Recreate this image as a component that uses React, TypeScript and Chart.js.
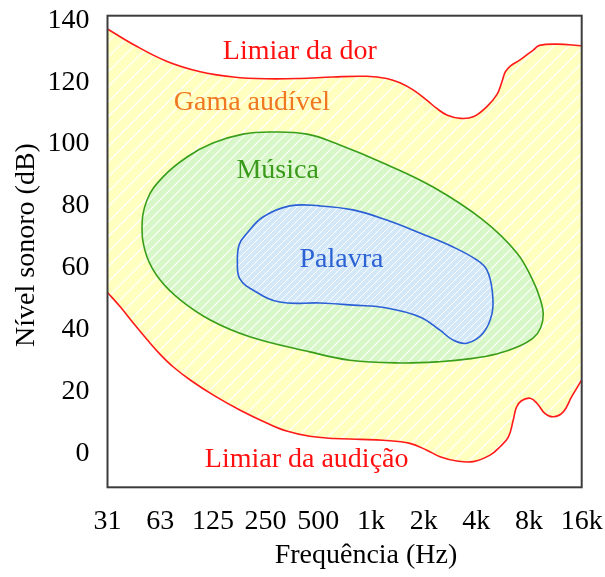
import React, { useEffect, useRef } from 'react';
import { Chart, registerables } from 'chart.js';

Chart.register(...registerables);

// ---- axes ----
const xTickOctaves = [0, 1, 2, 3, 4, 5, 6, 7, 8, 9];
const xTickLabels = ['31', '63', '125', '250', '500', '1k', '2k', '4k', '8k', '16k'];
const yTickValues = [0, 20, 40, 60, 80, 100, 120, 140];

// ---- threshold of pain (octaves above 31 Hz, dB) ----
const painOct = [0, 0.49, 1.12, 1.76, 2.39, 3.02, 3.65, 4.28, 4.92, 5.3, 5.55, 5.8, 6.06, 6.25, 6.45, 6.7, 6.94, 7.2, 7.39, 7.48, 7.55, 7.65, 7.83, 8.08, 8.2, 8.53, 9];
const painDb = [137.2, 132.2, 126.8, 123.4, 121.7, 121.1, 121.2, 121.7, 121.9, 121.2, 119.8, 117.5, 114.2, 111.5, 109.3, 108.3, 108.8, 112.1, 116, 119.8, 123.3, 125.3, 127.2, 130.4, 131.9, 132.3, 131.8];

// ---- threshold of hearing ----
const hearOct = [0, 0.25, 0.5, 0.75, 1.0, 1.25, 1.57, 2.01, 2.51, 3.02, 3.4, 3.84, 4.29, 4.8, 5.23, 5.74, 6.06, 6.31, 6.63, 6.94, 7.26, 7.45, 7.61, 7.7, 7.76, 7.85, 8.02, 8.15, 8.3, 8.46, 8.65, 8.81, 9];
const hearDb = [52, 47.2, 41.9, 36.8, 32.0, 27.9, 23.7, 18.8, 14.0, 9.8, 7.2, 5.5, 4.8, 4.5, 4.2, 3.2, 1.0, -1.1, -2.5, -2.7, -0.6, 2.1, 5.3, 10.7, 14.8, 16.9, 17.8, 16.2, 12.9, 11.8, 13.4, 18.3, 23.7];

// ---- music region (closed outline) ----
const musicOct = [0.655, 0.75, 1.05, 1.51, 2.0, 2.57, 3.08, 3.79, 4.41, 5.23, 6.18, 7.13, 7.77, 8.07, 8.21, 8.27, 8.22, 8.08, 7.8, 7.4, 6.9, 6.3, 5.55, 4.6, 3.84, 2.7, 1.95, 1.38, 1.0, 0.75];
const musicDb = [72.2, 81.9, 89.3, 95.8, 100.3, 103.2, 103.9, 103.2, 99.7, 93.9, 86.1, 75.4, 64.8, 56, 50, 45, 40.5, 37.3, 34.5, 32.2, 30.6, 29.6, 29.2, 30.1, 32.8, 37.7, 43.1, 49.6, 56, 63.5];

// ---- speech region (closed outline) ----
const speechOct = [2.465, 2.5, 2.65, 2.95, 3.46, 4.03, 4.66, 5.3, 5.93, 6.56, 7.01, 7.2, 7.3, 7.3, 7.13, 6.82, 6.56, 6.31, 5.93, 5.3, 4.66, 4.03, 3.27, 2.76, 2.51];
const speechDb = [61.5, 67.5, 71.2, 76.4, 80.0, 80.0, 78.7, 75.4, 71.2, 66.7, 62.5, 59.3, 52.8, 45.4, 38.9, 35.6, 36.6, 39.8, 44.1, 47, 47.9, 48.6, 48.9, 52.8, 56.5];

// ---- region labels ----
const labelTexts = ['Limiar da dor', 'Gama audível', 'Música', 'Palavra', 'Limiar da audição'];
const labelOct = [3.65, 2.74, 3.23, 4.44, 3.78];
const labelDb = [129.8, 113.4, 91.3, 62.7, -2.2];

const FONT = "'Liberation Serif', 'Times New Roman', serif";
const LABEL_COLORS = ['#ff1010', '#f07822', '#3a9a1c', '#2b62d4', '#ff1010'];

const toXY = (xs: number[], ys: number[]) => xs.map((x, i) => ({ x, y: ys[i] }));

function hatch(base: string, size: number, lw: number): CanvasPattern | string {
  const c = document.createElement('canvas');
  c.width = size;
  c.height = size;
  const g = c.getContext('2d');
  if (!g) return base;
  g.fillStyle = base;
  g.fillRect(0, 0, size, size);
  g.strokeStyle = 'rgba(255,255,255,0.95)';
  g.lineWidth = lw;
  g.beginPath();
  for (const off of [-size, 0, size]) {
    g.moveTo(off, size);
    g.lineTo(off + size, 0);
  }
  g.stroke();
  const p = g.createPattern(c, 'repeat');
  return p || base;
}

// make the outline datasets flagged closedShape draw as smooth closed loops
const loopShapes = {
  id: 'loopShapes',
  afterDatasetUpdate(chart: any, args: any) {
    const ds = chart.data.datasets[args.index];
    const line = args.meta && args.meta.dataset;
    if (ds && ds.closedShape && line) {
      line._loop = true;
      line._fullLoop = true;
      delete line._segments;
      delete line._path;
      line._pointsUpdated = false;
    }
  },
};

const overlay = {
  id: 'overlay',
  afterDatasetsDraw(chart: any) {
    const { ctx, chartArea: a, scales } = chart;
    const x = scales.x;
    const y = scales.y;
    ctx.save();
    ctx.strokeStyle = '#3d3d3d';
    ctx.lineWidth = 2;
    ctx.strokeRect(a.left, a.top, a.right - a.left, a.bottom - a.top);
    ctx.font = `28px ${FONT}`;
    ctx.textAlign = 'center';
    ctx.textBaseline = 'middle';
    labelTexts.forEach((t, i) => {
      ctx.fillStyle = LABEL_COLORS[i];
      ctx.fillText(t, x.getPixelForValue(labelOct[i]), y.getPixelForValue(labelDb[i]));
    });
    ctx.fillStyle = '#000';
    ctx.fillText('Frequência (Hz)', 366, 556);
    ctx.translate(27, 245);
    ctx.rotate(-Math.PI / 2);
    ctx.fillText('Nível sonoro (dB)', 0, 0);
    ctx.restore();
  },
};

export default function App() {
  const ref = useRef<HTMLCanvasElement | null>(null);
  useEffect(() => {
    if (!ref.current) return;
    const yellow = hatch('#ffffc0', 15, 1.4);
    const green = hatch('#d8f7c8', 10, 1.2);
    const blue = hatch('#d5e8f8', 7, 1.0);
    const chart = new Chart(ref.current, {
      type: 'scatter',
      data: {
        datasets: [
          {
            data: toXY(painOct, painDb),
            showLine: true,
            borderColor: '#ff1a1a',
            borderWidth: 1.6,
            pointRadius: 0,
            tension: 0.4,
            fill: '+1',
            backgroundColor: yellow,
            order: 5,
          },
          {
            data: toXY(hearOct, hearDb),
            showLine: true,
            borderColor: '#ff1a1a',
            borderWidth: 1.6,
            pointRadius: 0,
            tension: 0.4,
            fill: false,
            order: 4,
          },
          {
            data: toXY(musicOct, musicDb),
            closedShape: true,
            showLine: true,
            borderColor: '#3a9e1a',
            borderWidth: 1.6,
            pointRadius: 0,
            tension: 0.4,
            fill: 'shape',
            backgroundColor: green,
            order: 3,
          },
          {
            data: toXY(speechOct, speechDb),
            closedShape: true,
            showLine: true,
            borderColor: '#2a5fd6',
            borderWidth: 1.6,
            pointRadius: 0,
            tension: 0.4,
            fill: 'shape',
            backgroundColor: blue,
            order: 1,
          },
        ] as any,
      },
      options: {
        animation: false,
        responsive: false,
        devicePixelRatio: 1,
        layout: { padding: { top: 15.7, right: 23.3, left: 0, bottom: 0 } },
        plugins: { legend: { display: false }, tooltip: { enabled: false } },
        scales: {
          x: {
            type: 'linear',
            min: 0,
            max: 9,
            grid: { display: false },
            border: { display: false },
            afterBuildTicks: (s: any) => {
              s.ticks = xTickOctaves.map((v) => ({ value: v }));
            },
            afterFit: (s: any) => {
              s.height = 89.7;
              s.paddingLeft = 0;
              s.paddingRight = 0;
            },
            ticks: {
              autoSkip: false,
              maxRotation: 0,
              padding: 10,
              color: '#000',
              font: { family: FONT, size: 28 },
              callback: (_v: any, i: number) => xTickLabels[i],
            },
          },
          y: {
            type: 'linear',
            min: -11,
            max: 141.5,
            grid: { display: false },
            border: { display: false },
            afterBuildTicks: (s: any) => {
              s.ticks = yTickValues.map((v) => ({ value: v }));
            },
            afterFit: (s: any) => {
              s.width = 107.5;
              s.paddingTop = 0;
              s.paddingBottom = 0;
            },
            ticks: {
              padding: 10,
              color: '#000',
              font: { family: FONT, size: 28 },
              callback: (v: any) => String(v),
            },
          },
        },
      } as any,
      plugins: [loopShapes, overlay],
    });
    return () => chart.destroy();
  }, []);
  return (
    <div style={{ position: 'absolute', left: 0, top: 0, width: 605, height: 577, background: '#fff' }}>
      <canvas ref={ref} width={605} height={577} />
    </div>
  );
}
